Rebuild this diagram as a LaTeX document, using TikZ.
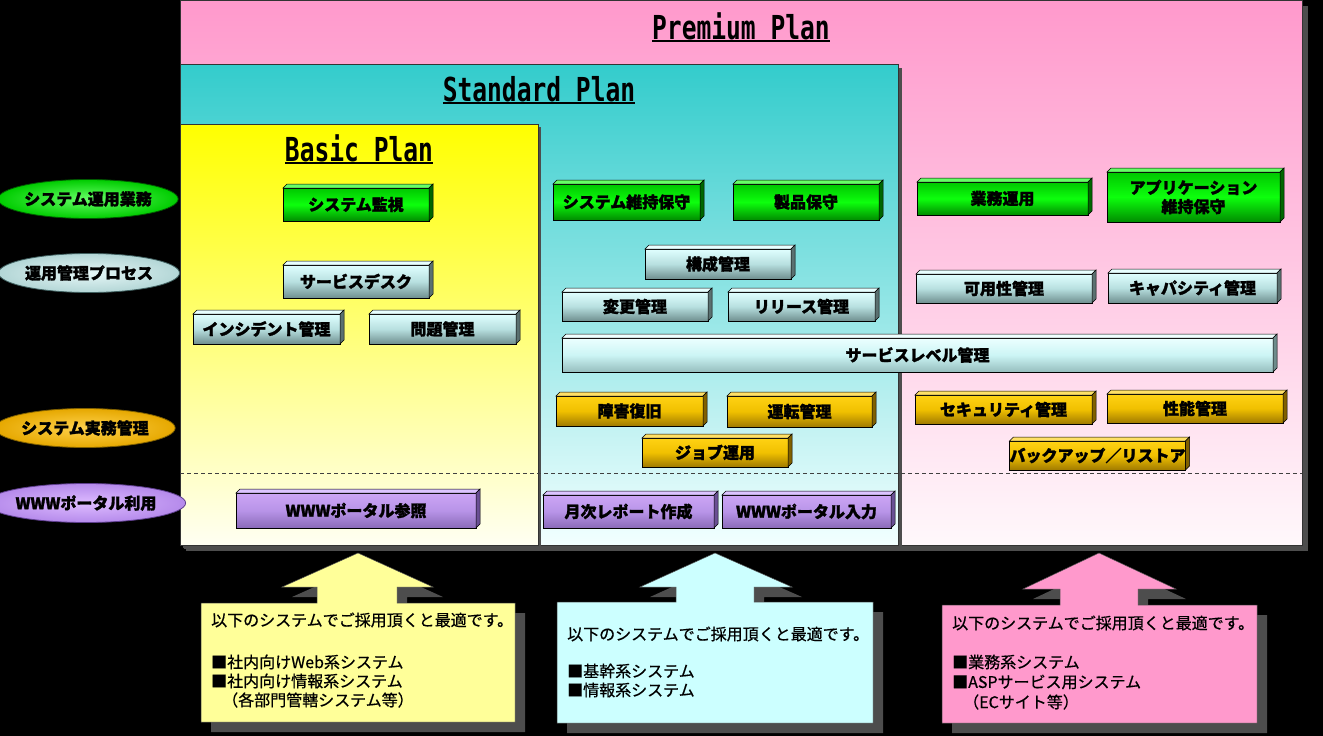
\documentclass[tikz,border=0pt]{standalone}
\usepackage{fontspec}
\setmainfont{Noto Sans CJK JP}
\newfontfamily\jp[BoldFeatures={FakeBold=1.6}]{Noto Sans CJK JP}
\newfontfamily\jpc[FakeBold=0.6]{Noto Sans CJK JP}
\newfontfamily\titlefont[FakeStretch=0.745]{DejaVu Sans Mono}
\usetikzlibrary{shapes.geometric}
\definecolor{premtop}{HTML}{FF99CC}
\definecolor{prembot}{HTML}{FFF8FB}
\definecolor{stdtop}{HTML}{33CCCC}
\definecolor{stdbot}{HTML}{F2FFFF}
\definecolor{bastop}{HTML}{FFFF00}
\definecolor{basbot}{HTML}{FFFFF2}
\definecolor{shadowgray}{HTML}{4D4D4D}
\definecolor{callY}{HTML}{FFFF99}
\definecolor{callC}{HTML}{CCFFFF}
\definecolor{callP}{HTML}{FF99CC}
\newcommand\titleul[1]{\setbox0\hbox{#1}\leavevmode\rlap{\rule[-3pt]{\wd0}{1.6pt}}\box0}
\tikzset{
  plan/.style={rectangle, draw=black!80, line width=0.6pt, inner sep=0pt, outer sep=0pt},
  titletext/.style={font=\titlefont\bfseries\fontsize{33}{36}\selectfont, text=black, inner sep=0pt},
  bx/.style={rectangle, draw=black, line width=0.6pt, inner sep=0pt, outer sep=0pt, align=center,
             font=\jp\bfseries\fontsize{16}{19}\selectfont, text=black},
  gface/.style={top color=green!78!black, bottom color=green!55!black, middle color=green!95!white},
  gtop/.style={fill=green!60!white, draw=black, line width=0.5pt},
  gside/.style={fill=green!40!black, draw=black, line width=0.5pt},
  pface/.style={top color={rgb,255:red,224;green,255;blue,255}, bottom color={rgb,255:red,111;green,143;blue,143}, middle color={rgb,255:red,184;green,224;blue,224}},
  ptop/.style={fill={rgb,255:red,232;green,255;blue,255}, draw=black, line width=0.5pt},
  pside/.style={fill={rgb,255:red,90;green,112;blue,112}, draw=black, line width=0.5pt},
  sface/.style={top color={rgb,255:red,236;green,255;blue,255}, bottom color={rgb,255:red,150;green,190;blue,190}, middle color={rgb,255:red,204;green,245;blue,245}},
  stop/.style={fill={rgb,255:red,240;green,255;blue,255}, draw=black, line width=0.5pt},
  sside/.style={fill={rgb,255:red,110;green,140;blue,140}, draw=black, line width=0.5pt},
  oface/.style={top color={rgb,255:red,255;green,210;blue,20}, bottom color={rgb,255:red,160;green,122;blue,0}, middle color={rgb,255:red,240;green,192;blue,0}},
  otop/.style={fill={rgb,255:red,255;green,224;blue,102}, draw=black, line width=0.5pt},
  oside/.style={fill={rgb,255:red,128;green,96;blue,0}, draw=black, line width=0.5pt},
  uface/.style={top color={rgb,255:red,204;green,165;blue,245}, bottom color={rgb,255:red,138;green,106;blue,184}, middle color={rgb,255:red,184;green,148;blue,232}},
  utop/.style={fill={rgb,255:red,220;green,196;blue,255}, draw=black, line width=0.5pt},
  uside/.style={fill={rgb,255:red,106;green,79;blue,148}, draw=black, line width=0.5pt},
  ell/.style={ellipse, minimum width=164pt, minimum height=39pt, inner sep=0pt, line width=0.8pt,
              font=\jp\bfseries\fontsize{16}{19}\selectfont, text=black},
  ctext/.style={anchor=west, inner sep=0pt, font=\jpc\fontsize{16}{19}\selectfont, text=black},
  callshape/.style={draw=black!70, line width=0.5pt},
}
\newcommand\bbox[7]{%
  \node[bx,#2face,minimum width={(#5-#3)*1pt},minimum height={(#6-#4)*1pt}] (#1) at ({(#3+#5)/2},{(#4+#6)/2}) {#7};
  \path[#2top] (#1.north west) -- ++(4pt,4pt) -- ([shift={(4pt,4pt)}]#1.north east) -- (#1.north east) -- cycle;
  \path[#2side] (#1.north east) -- ++(4pt,4pt) -- ([shift={(4pt,4pt)}]#1.south east) -- (#1.south east) -- cycle;
}
\begin{document}
\begin{tikzpicture}[x=1pt,y=-1pt]
\useasboundingbox (0,0) rectangle (1323,736);
\fill[black] (0,0) rectangle (1323,736);

% plan areas
\fill[shadowgray] (186,6) rectangle (1308,551);
\node[plan, top color=premtop, bottom color=prembot, minimum width=1122pt, minimum height=545pt] (premium) at (741,272.5) {};
\fill[shadowgray] (184,68) rectangle (902,549);
\node[plan, top color=stdtop, bottom color=stdbot, minimum width=718pt, minimum height=481pt] (standard) at (539,304.5) {};
\fill[shadowgray] (183,127) rectangle (541,548);
\node[plan, top color=bastop, bottom color=basbot, minimum width=358pt, minimum height=421pt] (basic) at (359,334.5) {};

\draw[black!75, line width=1pt, dash pattern=on 4pt off 3pt] (180,473) -- (1302,473);

% titles
\node[titletext, anchor=base] (tprem) at (741,39) {\titleul{Premium Plan}};
\node[titletext, anchor=base] (tstd) at (539,101) {\titleul{Standard Plan}};
\node[titletext, anchor=base] (tbas) at (359,161) {\titleul{Basic Plan}};

% left category ellipses
\node[ell, draw=green!35!black, inner color=green!60!white, outer color=green!80!black] (e1) at (88,199) {システム運用業務};
\node[ell, draw={rgb,255:red,64;green,96;blue,96}, inner color={rgb,255:red,230;green,247;blue,247}, outer color={rgb,255:red,179;green,214;blue,214}] (e2) at (89,273) {運用管理プロセス};
\node[ell, draw={rgb,255:red,128;green,96;blue,0}, inner color={rgb,255:red,255;green,210;blue,77}, outer color={rgb,255:red,230;green,168;blue,0}] (e3) at (85,428) {システム実務管理};
\node[ell, draw={rgb,255:red,95;green,63;blue,143}, inner color={rgb,255:red,221;green,187;blue,255}, outer color={rgb,255:red,181;green,138;blue,235}] (e4) at (86,503) {WWWポータル利用};

% green (system operation tasks)
\bbox{sysmon}{g}{283}{188}{429}{221}{システム監視}
\bbox{sysmaint}{g}{553}{184}{700}{220}{システム維持保守}
\bbox{prodmaint}{g}{733}{184}{879}{220}{製品保守}
\bbox{bizop}{g}{917}{182}{1088}{215}{業務運用}
\bbox{appmaint}{g}{1107}{172}{1280}{222}{アプリケーション\\維持保守}

% process boxes
\bbox{svdesk}{p}{283}{265}{429}{298}{サービスデスク}
\bbox{incident}{p}{193}{314}{340}{344}{インシデント管理}
\bbox{problem}{p}{369}{314}{516}{344}{問題管理}
\bbox{config}{p}{645}{249}{791}{279}{構成管理}
\bbox{change}{p}{562}{292}{708}{321}{変更管理}
\bbox{release}{p}{728}{292}{875}{321}{リリース管理}
\bbox{avail}{p}{916}{274}{1092}{303}{可用性管理}
\bbox{capacity}{p}{1108}{273}{1277}{303}{キャパシティ管理}
\bbox{slm}{s}{562}{338}{1273}{372}{サービスレベル管理}

% gold (practical management)
\bbox{recovery}{o}{556}{396}{703}{426}{障害復旧}
\bbox{operation}{o}{727}{396}{872}{427}{運転管理}
\bbox{job}{o}{642}{438}{788}{467}{ジョブ運用}
\bbox{security}{o}{915}{395}{1092}{424}{セキュリティ管理}
\bbox{perf}{o}{1107}{394}{1283}{423}{性能管理}
\bbox{backup}{o}{1010}{441}{1185}{470}{バックアップ／リストア}

% purple (WWW portal)
\bbox{wwwref}{u}{236}{493}{476}{528}{WWWポータル参照}
\bbox{monthly}{u}{543}{495}{714}{528}{月次レポート作成}
\bbox{wwwin}{u}{722}{495}{891}{528}{WWWポータル入力}

% callouts
\fill[shadowgray, shift={(10,10)}] (201,603) -- (317,603) -- (317,587) -- (282,587) -- (358,553) -- (433,587) -- (397,587) -- (397,603) -- (515,603) -- (515,722) -- (201,722) -- cycle;
\path[callshape, fill=callY] (201,603) -- (317,603) -- (317,587) -- (282,587) -- (358,553) -- (433,587) -- (397,587) -- (397,603) -- (515,603) -- (515,722) -- (201,722) -- cycle;
\node[ctext] (c1a) at (211,620) {以下のシステムでご採用頂くと最適です。};
\node[ctext] (c1b) at (211,662) {■社内向けWeb系システム};
\node[ctext] (c1c) at (211,681) {■社内向け情報系システム};
\node[ctext] (c1d) at (222,700) {（各部門管轄システム等）};

\fill[shadowgray, shift={(10,10)}] (557,602) -- (676,602) -- (676,587) -- (640,587) -- (715,553) -- (792,587) -- (754,587) -- (754,602) -- (873,602) -- (873,723) -- (557,723) -- cycle;
\path[callshape, fill=callC] (557,602) -- (676,602) -- (676,587) -- (640,587) -- (715,553) -- (792,587) -- (754,587) -- (754,602) -- (873,602) -- (873,723) -- (557,723) -- cycle;
\node[ctext] (c2a) at (567,634) {以下のシステムでご採用頂くと最適です。};
\node[ctext] (c2b) at (567,671) {■基幹系システム};
\node[ctext] (c2c) at (567,690) {■情報系システム};

\fill[shadowgray, shift={(10,10)}] (942,605) -- (1060,605) -- (1060,589) -- (1023,589) -- (1099,553) -- (1176,589) -- (1138,589) -- (1138,605) -- (1257,605) -- (1257,723) -- (942,723) -- cycle;
\path[callshape, fill=callP] (942,605) -- (1060,605) -- (1060,589) -- (1023,589) -- (1099,553) -- (1176,589) -- (1138,589) -- (1138,605) -- (1257,605) -- (1257,723) -- (942,723) -- cycle;
\node[ctext] (c3a) at (952,623) {以下のシステムでご採用頂くと最適です。};
\node[ctext] (c3b) at (952,662) {■業務系システム};
\node[ctext] (c3c) at (952,682) {■ASPサービス用システム};
\node[ctext] (c3d) at (963,702) {（ECサイト等）};
\end{tikzpicture}
\end{document}
